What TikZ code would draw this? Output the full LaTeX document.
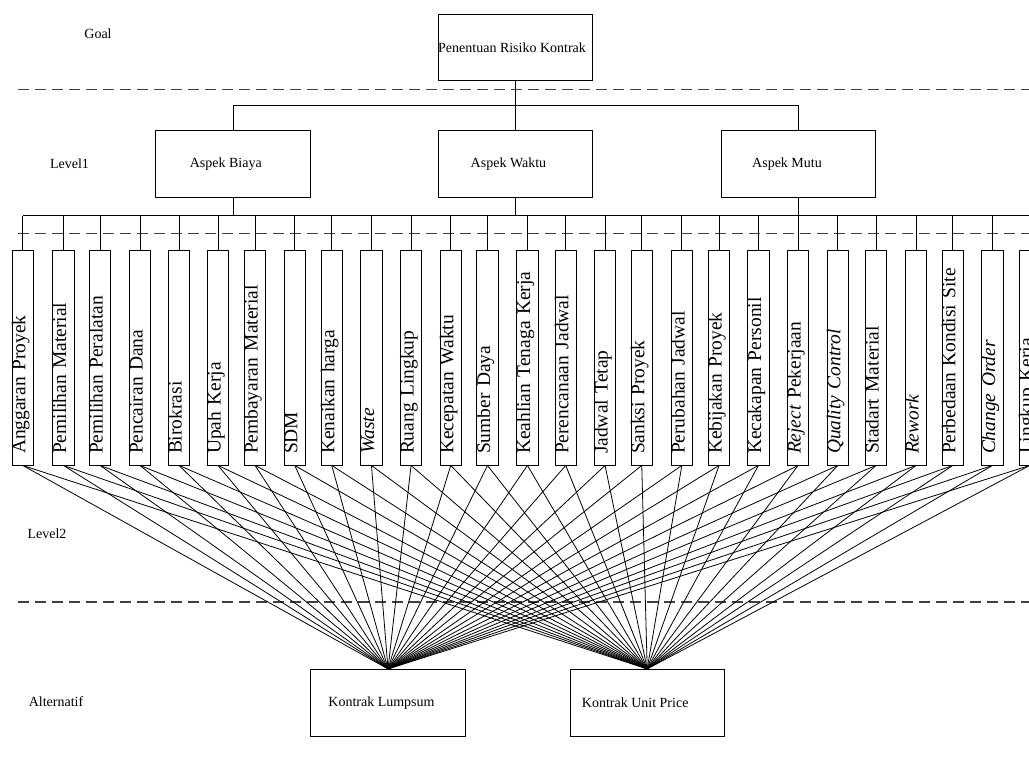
\documentclass[tikz,border=0pt]{standalone}
\usepackage{fontspec}
\setmainfont{Liberation Serif}
\begin{document}
\begin{tikzpicture}[x=0.75pt,y=-0.75pt,
  every node/.style={font=\fontsize{10.5pt}{12pt}\selectfont},
  bigbox/.style={draw, line width=0.7pt, minimum width=115.8pt, minimum height=50pt, inner sep=0pt},
  crit/.style={draw, line width=0.7pt, rotate=90, minimum height=16.1pt, minimum width=160.7pt,
    inner xsep=8.25pt, inner ysep=0pt, text width=144.2pt, align=left,
    text height=6pt, text depth=2pt, font=\fontsize{14.6pt}{16pt}\selectfont},
  conn/.style={line width=0.6pt},
  sep/.style={dash pattern=on 8.25pt off 4.5pt, line width=0.8pt, black!75}]
\useasboundingbox (0,0) rectangle (1029,779);

% separators
\draw[sep] (18,89.3) -- (1029,89.3);
\draw[sep] (18,233.3) -- (1029,233.3);
\draw[sep] (18,602) -- (1029,602);

% level labels
\node (lgoal) at (98,34) {Goal};
\node (l1) at (69.5,163.5) {Level1};
\node (l2) at (47,534) {Level2};
\node (lalt) at (56,702) {Alternatif};

% main boxes
\node[bigbox] (goal) at (515.4,47.3) {Penentuan Risiko Kontrak\hspace*{5pt}};
\node[bigbox] (aB) at (233,163.8) {Aspek Biaya\hspace*{10.8pt}};
\node[bigbox] (aW) at (515.4,163.8) {Aspek Waktu\hspace*{10.4pt}};
\node[bigbox] (aM) at (798.6,163.8) {Aspek Mutu\hspace*{17.4pt}};
\node[bigbox] (alt1) at (388,702.7) {Kontrak Lumpsum\hspace*{9.8pt}};
\node[bigbox] (alt2) at (647.2,702.7) {Kontrak Unit Price\hspace*{18pt}};

% criteria
\foreach \i/\x/\t in {
  1/22.75/Anggaran Proyek,
  2/63.45/Pemilihan Material,
  3/100.05/Pemilihan Peralatan,
  4/140.05/Pencairan Dana,
  5/179.05/Birokrasi,
  6/218.05/Upah Kerja,
  7/255.05/Pembayaran Material,
  8/294.75/SDM,
  9/331.75/Kenaikan harga,
  10/371.45/\textit{Waste},
  11/411.05/Ruang Lingkup,
  12/450.75/Kecepatan Waktu,
  13/487.45/Sumber Daya,
  14/527.45/Keahlian Tenaga Kerja,
  15/565.75/Perencanaan Jadwal,
  16/605.05/Jadwal Tetap,
  17/641.75/Sanksi Proyek,
  18/681.85/Perubahan Jadwal,
  19/719.05/Kebijakan Proyek,
  20/758.45/Kecakapan Personil,
  21/798.05/\textit{Reject} Pekerjaan,
  22/837.75/\textit{Quality Control},
  23/876.05/Stadart Material,
  24/916.05/\textit{Rework},
  25/952.75/Perbedaan Kondisi Site,
  26/992.45/\textit{Change Order},
  27/1029.75/Lingkup Kerja}
  \node[crit] (b\i) at (\x,357.85) {\t};

% top tree
\coordinate (bus1) at (0,105.7);
\coordinate (busL) at (0,215.7);
\draw[conn] (goal.south) -- (aW.north);
\draw[conn] (aB.north) -- (aB.north |- bus1) -- (aM.north |- bus1) -- (aM.north);
\draw[conn] (aB.south) -- (aB.south |- busL);
\draw[conn] (aW.south) -- (aW.south |- busL);
\draw[conn] (aM.south) -- (aM.south |- busL);
\draw[conn] (b1.east |- busL) -- (b27.east |- busL);
\foreach \i in {1,...,27} \draw[conn] (b\i.east) -- (b\i.east |- busL);

% to alternatives
\foreach \i in {1,...,27} {
  \draw[conn] (b\i.west) -- (alt1.north);
  \draw[conn] (b\i.west) -- (alt2.north);
}
\end{tikzpicture}
\end{document}
